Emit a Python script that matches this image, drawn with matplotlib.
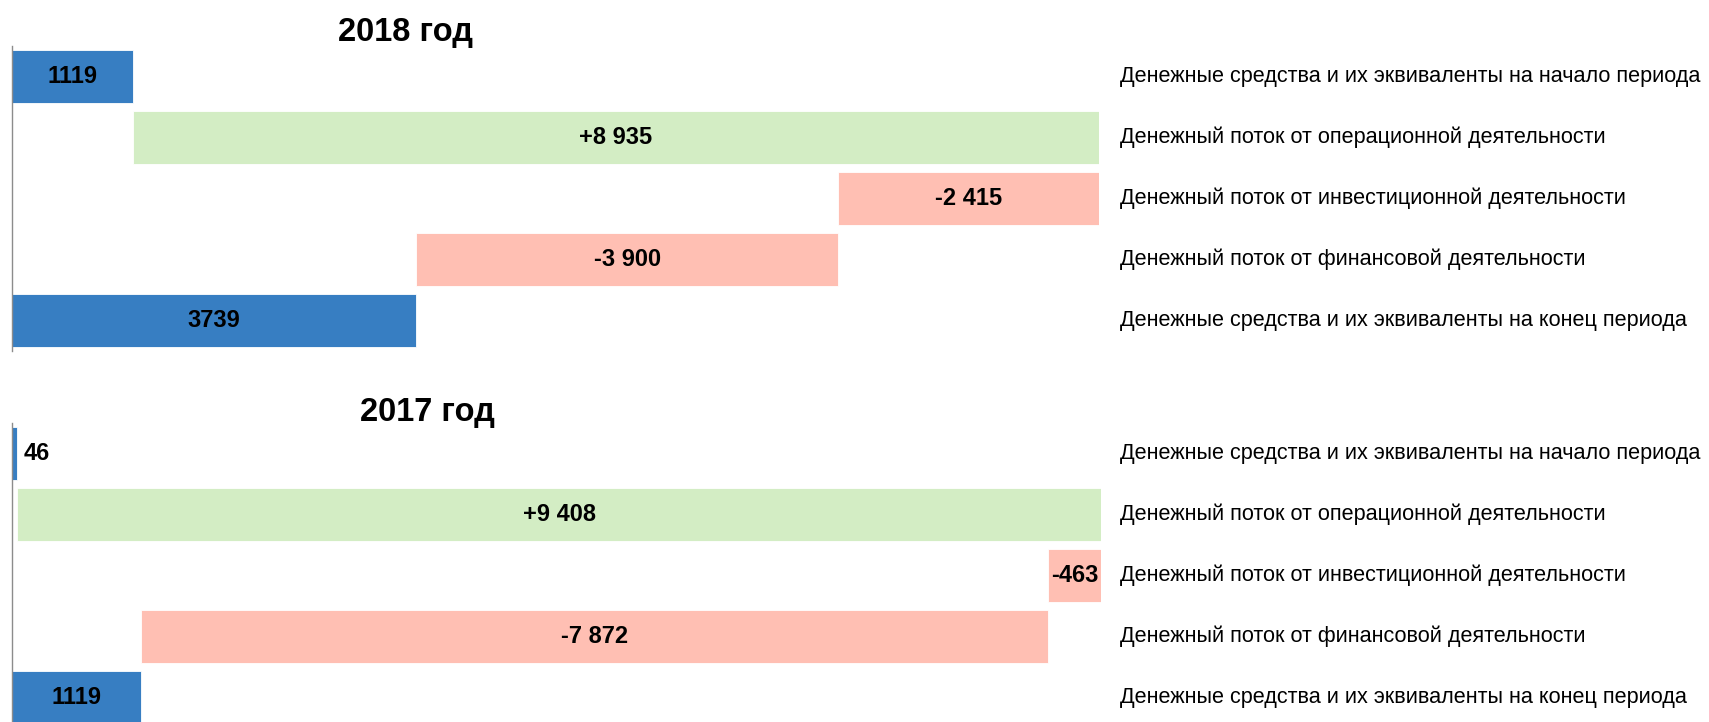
import matplotlib
matplotlib.use("Agg")
import matplotlib.pyplot as plt
from matplotlib.transforms import blended_transform_factory

plt.rcParams['font.family'] = ['Liberation Sans Narrow', 'Liberation Sans', 'DejaVu Sans']

categories = [
    "Денежные средства и их эквиваленты на начало периода",
    "Денежный поток от операционной деятельности",
    "Денежный поток от инвестиционной деятельности",
    "Денежный поток от финансовой деятельности",
    "Денежные средства и их эквиваленты на конец периода",
]
kinds = ["total", "flow", "flow", "flow", "total"]

years = ["2018 год", "2017 год"]
values_2018 = [1119, 8935, -2415, -3900, 3739]
values_2017 = [46, 9408, -463, -7872, 1119]
labels_2018 = ["1119", "+8 935", "-2 415", "-3 900", "3739"]
labels_2017 = ["46", "+9 408", "-463", "-7 872", "1119"]

blue = "#377EC2"
green = "#D3EDC4"
pink = "#FFBFB3"

W, H = 1709, 722
fig = plt.figure(figsize=(W / 100, H / 100), dpi=100)

# panel boxes in pixels: left, top, right, bottom
panels = [
    (12, 46, 1099, 351, values_2018, labels_2018, years[0], 405, 33),
    (12, 423, 1101, 728, values_2017, labels_2017, years[1], 427, 412),
]

for left, top, right, bottom, vals, labs, title, tx, ty in panels:
    ax = fig.add_axes([left / W, 1 - bottom / H, (right - left) / W, (bottom - top) / H])
    running = 0
    starts, widths, colors = [], [], []
    for v, k in zip(vals, kinds):
        if k == "total":
            starts.append(0)
            widths.append(v)
            colors.append(blue)
            running = v
        else:
            new = running + v
            starts.append(min(running, new))
            widths.append(abs(v))
            colors.append(green if v > 0 else pink)
            running = new
    ypos = list(range(len(vals)))
    ax.barh(ypos, widths, left=starts, height=0.86, color=colors,
            edgecolor="white", linewidth=0.6)
    xmax = max(s + w for s, w in zip(starts, widths))
    ax.set_xlim(0, xmax)
    ax.set_ylim(4.5, -0.5)
    for i, (s, w, lab) in enumerate(zip(starts, widths, labs)):
        if w / xmax < 0.02:
            ax.text(s + w + xmax * 0.006, i, lab, ha="left", va="center",
                    fontsize=17, fontweight="bold")
        else:
            ax.text(s + w / 2, i, lab, ha="center", va="center",
                    fontsize=17, fontweight="bold")
    tr = blended_transform_factory(fig.transFigure, ax.transData)
    for i, c in enumerate(categories):
        ax.text(1120 / W, i, c, transform=tr, ha="left", va="center",
                fontsize=15.6, clip_on=False)
    for sp in ["top", "right", "bottom"]:
        ax.spines[sp].set_visible(False)
    ax.spines["left"].set_color("#8c8c8c")
    ax.spines["left"].set_linewidth(1)
    ax.set_xticks([])
    ax.set_yticks([])
    fig.text(tx / W, 1 - ty / H, title, ha="center", va="center",
             fontsize=23.5, fontweight="bold")

fig.savefig("out.png", dpi=100)
